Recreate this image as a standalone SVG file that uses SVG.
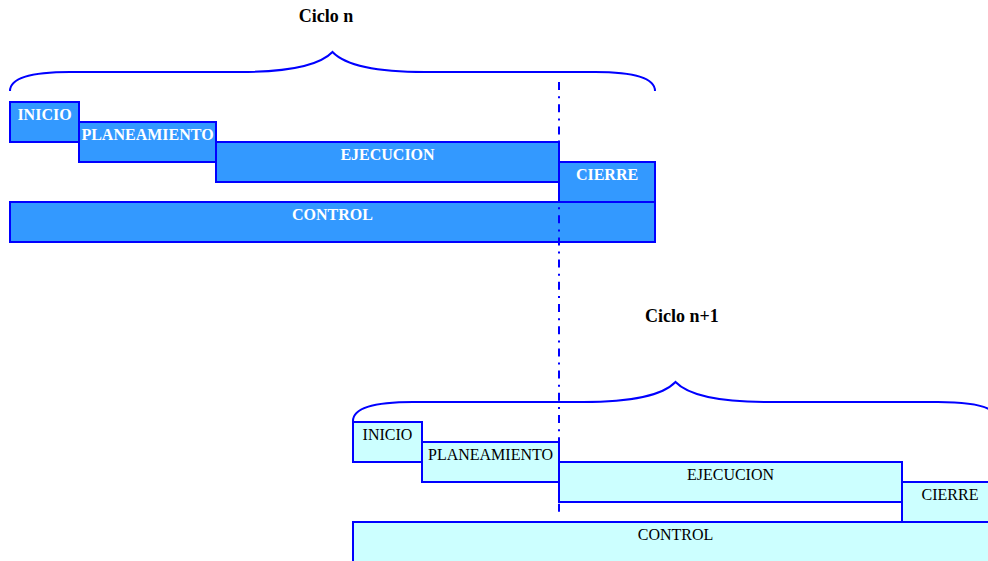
<svg xmlns="http://www.w3.org/2000/svg" width="988" height="561" viewBox="0 0 988 561">
<defs>
<style>
.a{fill:#3399ff;stroke:#0000ff;stroke-width:2}
.b{fill:#ccffff;stroke:#0000ff;stroke-width:2}
.ta{font-family:"Liberation Serif","Times New Roman",serif;font-size:16px;font-weight:bold;fill:#ffffff;text-anchor:middle}
.tb{font-family:"Liberation Serif","Times New Roman",serif;font-size:16px;fill:#000000;text-anchor:middle}
.title{font-family:"Liberation Serif","Times New Roman",serif;font-size:18px;font-weight:bold;fill:#000000;text-anchor:middle}
.brace{fill:none;stroke:#0000ff;stroke-width:2}
.div{fill:none;stroke:#0000ff;stroke-width:2;stroke-dasharray:8 6.2 2 6}
</style>
<path id="brace" d="M10,91 C10,80 25,72 70,72 L240,72 C290,72 320,65 332.5,52 C345,65 375,72 425,72 L595,72 C640,72 655,80 655,91"/>
</defs>

<g id="cycle-n">
<text id="title-n" class="title" x="326" y="22">Ciclo n</text>
<use id="brace-n" href="#brace" class="brace"/>
<g id="n-inicio"><rect class="a" x="10" y="102" width="69" height="40"/><text class="ta" x="44.5" y="120">INICIO</text></g>
<g id="n-planeamiento"><rect class="a" x="79" y="122" width="137" height="40"/><text class="ta" x="147.5" y="140">PLANEAMIENTO</text></g>
<g id="n-ejecucion"><rect class="a" x="216" y="142" width="343" height="40"/><text class="ta" x="387.5" y="160">EJECUCION</text></g>
<g id="n-cierre"><rect class="a" x="559" y="162" width="96" height="40"/><text class="ta" x="607" y="180">CIERRE</text></g>
<g id="n-control"><rect class="a" x="10" y="202" width="645" height="40"/><text class="ta" x="332.5" y="220">CONTROL</text></g>
</g>

<g id="cycle-n1">
<text id="title-n1" class="title" x="682" y="322">Ciclo n+1</text>
<use id="brace-n1" href="#brace" class="brace" transform="translate(343,330)"/>
<g id="n1-inicio"><rect class="b" x="353" y="422" width="69" height="40"/><text class="tb" x="387.5" y="440">INICIO</text></g>
<g id="n1-planeamiento"><rect class="b" x="422" y="442" width="137" height="40"/><text class="tb" x="490.5" y="460">PLANEAMIENTO</text></g>
<g id="n1-ejecucion"><rect class="b" x="559" y="462" width="343" height="40"/><text class="tb" x="730.5" y="480">EJECUCION</text></g>
<g id="n1-cierre"><rect class="b" x="902" y="482" width="96" height="40"/><text class="tb" x="950" y="500">CIERRE</text></g>
<g id="n1-control"><rect class="b" x="353" y="522" width="645" height="40"/><text class="tb" x="675.5" y="540">CONTROL</text></g>
</g>

<g id="connectors">
<line class="div" x1="559" y1="82" x2="559" y2="516"/>
</g>
</svg>
